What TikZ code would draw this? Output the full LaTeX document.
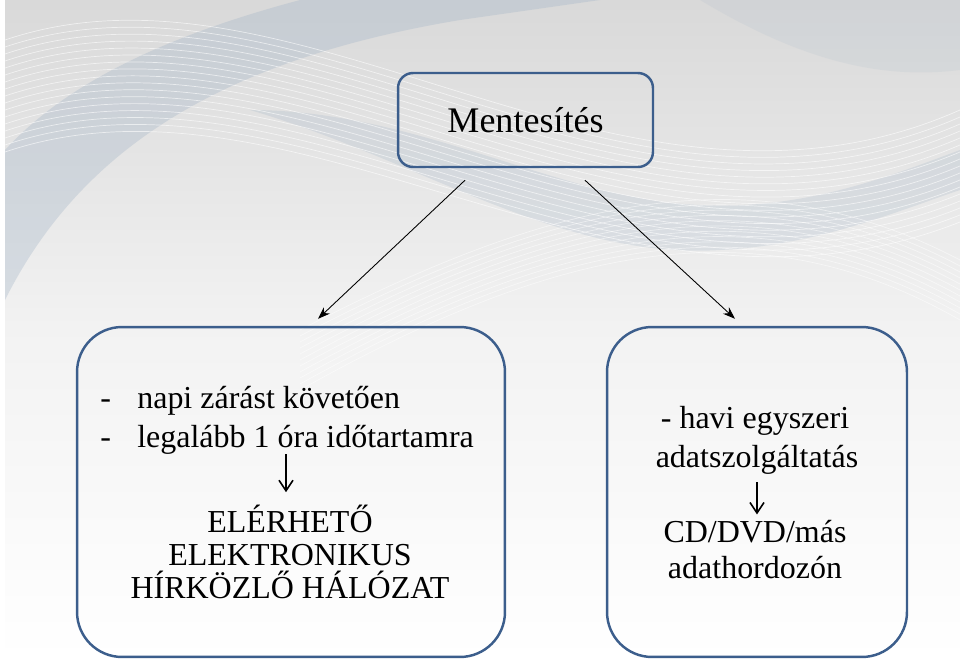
\documentclass[tikz,border=0pt]{standalone}
\usepackage{fontspec}
\setmainfont{Liberation Serif}
\usetikzlibrary{arrows.meta}

\definecolor{boxblue}{RGB}{60,94,140}
\definecolor{wavegray}{RGB}{165,182,200}

\tikzset{
  topbox/.style={draw=boxblue, line width=1.4pt, rounded corners=0.3cm,
    minimum width=5.1cm, minimum height=1.88cm, font=\fontsize{20.5}{24}\selectfont},
  bigbox/.style={draw=boxblue, line width=1.4pt, rounded corners=0.9cm, minimum height=6.6cm},
  txt/.style={inner sep=0pt, font=\fontsize{18.2}{22}\selectfont},
  link/.style={-{Stealth[length=7pt,width=5pt]}, line width=0.5pt},
  inner/.style={-{Straight Barb[length=6pt,width=8pt,line width=0.9pt]}, line width=0.9pt},
}

\begin{document}
\begin{tikzpicture}[x=0.02cm, y=-0.02cm]
    \useasboundingbox (0,0) rectangle (960,660);
    % Background with soft waves
    \fill[top color=black!15, bottom color=white, middle color=black!5] (5,0) rectangle (960,660);
    \fill[wavegray, opacity=0.35] (5,300) .. controls (80,150) and (220,60) .. (460,20)
        -- (600,0) -- (300,0) .. controls (150,40) and (60,90) .. (5,150) -- cycle;
    \fill[wavegray, opacity=0.25] (250,110) .. controls (420,160) and (560,260) .. (720,250)
        .. controls (820,245) and (900,210) .. (960,190) -- (960,150)
        .. controls (880,180) and (800,210) .. (700,205) .. controls (560,200) and (420,110) .. (250,110) -- cycle;
    \fill[wavegray, opacity=0.15] (700,0) .. controls (800,60) and (880,80) .. (960,70) -- (960,0) -- cycle;
    \foreach \i in {0,...,16}
        \draw[white, opacity=0.6, line width=0.4pt] (5,40+7*\i) .. controls (300,-60+7*\i) and (620,260+6*\i) .. (960,110+7*\i);
    \foreach \i in {0,...,10}
        \draw[white, opacity=0.5, line width=0.4pt] (300,330+6*\i) .. controls (550,200+5*\i) and (750,150+5*\i) .. (960,260+6*\i);

    % Boxes
    \node[topbox] (ment) at (525.5,120) {Mentesítés};
    \node[bigbox, minimum width=8.56cm] (bal) at (291,492) {};
    \node[bigbox, minimum width=6cm] (jobb) at (757,492) {};

    \draw[link] ([xshift=-1.21cm,yshift=-0.24cm]ment.south) -- ([xshift=0.54cm,yshift=0.14cm]bal.north);
    \draw[link] ([xshift=1.19cm,yshift=-0.24cm]ment.south) -- ([xshift=-0.44cm,yshift=0.14cm]jobb.north);

    % Left box text
    \node[txt, anchor=base west] (l1) at (100,408) {\makebox[0.74cm][l]{-}napi zárást követően};
    \node[txt, anchor=base west] (l2) at (100,447) {\makebox[0.74cm][l]{-}legalább 1 óra időtartamra};
    \node[txt, anchor=base] (e1) at (290,532) {ELÉRHETŐ};
    \node[txt, anchor=base] (e2) at (290,565) {ELEKTRONIKUS};
    \node[txt, anchor=base] (e3) at (290,598) {HÍRKÖZLŐ HÁLÓZAT};
    \draw[inner, shorten >=0.24cm] ([xshift=-0.08cm]e1.north |- l2.south) -- ([xshift=-0.08cm]e1.north);

    % Right box text
    \node[txt, anchor=base] (h1) at (755,428) {- havi egyszeri};
    \node[txt, anchor=base] (h2) at (757,467) {adatszolgáltatás};
    \node[txt, anchor=base] (c1) at (755,542) {CD/DVD/más};
    \node[txt, anchor=base] (c2) at (755,578) {adathordozón};
    \draw[inner, shorten <=0.16cm, shorten >=0.1cm] (h2.south) -- (h2.south |- c1.north);
\end{tikzpicture}
\end{document}
